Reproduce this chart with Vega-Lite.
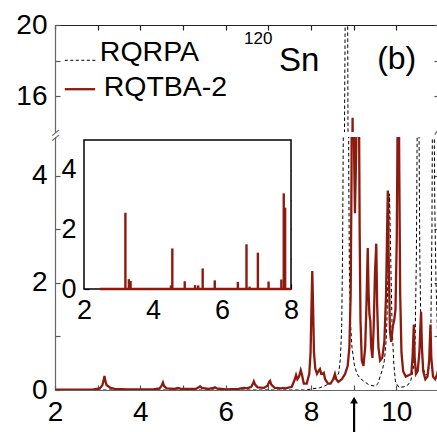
{
"$schema":"https://vega.github.io/schema/vega-lite/v6.json",
"padding":{"top":11,"left":15,"right":0,"bottom":0},
"bounds":"flush",
"spacing":5,
"config":{"view":{"stroke":null},"font":"Liberation Sans",
 "axis":{"grid":false,"labelFont":"Liberation Sans","labelFontSize":28,"labelColor":"black","domainColor":"#666","tickColor":"#555","tickSize":-5,"labelPadding":13,"labelFlush":false,"labelOverlap":false,"domainWidth":1.2,"tickWidth":1.2},
 "text":{"font":"Liberation Sans","color":"black"}},
"datasets":{
"rqtba":[{"E":2.0,"S":0.005},{"E":2.9,"S":0.01},{"E":3.05,"S":0.03},{"E":3.11,"S":0.09},{"E":3.14,"S":0.18},{"E":3.16,"S":0.26},{"E":3.18,"S":0.17},{"E":3.21,"S":0.09},{"E":3.25,"S":0.07},{"E":3.3,"S":0.04},{"E":3.4,"S":0.02},{"E":3.7,"S":0.01},{"E":4.3,"S":0.01},{"E":4.45,"S":0.03},{"E":4.5,"S":0.08},{"E":4.53,"S":0.14},{"E":4.56,"S":0.07},{"E":4.62,"S":0.03},{"E":4.8,"S":0.02},{"E":4.88,"S":0.04},{"E":4.95,"S":0.02},{"E":5.3,"S":0.02},{"E":5.37,"S":0.05},{"E":5.4,"S":0.07},{"E":5.44,"S":0.04},{"E":5.6,"S":0.02},{"E":5.72,"S":0.04},{"E":5.75,"S":0.05},{"E":5.79,"S":0.03},{"E":6.0,"S":0.01},{"E":6.3,"S":0.02},{"E":6.42,"S":0.04},{"E":6.5,"S":0.03},{"E":6.6,"S":0.06},{"E":6.64,"S":0.12},{"E":6.66,"S":0.16},{"E":6.69,"S":0.1},{"E":6.75,"S":0.05},{"E":6.9,"S":0.04},{"E":6.98,"S":0.08},{"E":7.02,"S":0.15},{"E":7.04,"S":0.17},{"E":7.07,"S":0.1},{"E":7.15,"S":0.04},{"E":7.3,"S":0.03},{"E":7.34,"S":0.04},{"E":7.4,"S":0.03},{"E":7.55,"S":0.06},{"E":7.62,"S":0.2},{"E":7.65,"S":0.28},{"E":7.68,"S":0.2},{"E":7.72,"S":0.25},{"E":7.76,"S":0.37},{"E":7.79,"S":0.28},{"E":7.83,"S":0.12},{"E":7.9,"S":0.12},{"E":7.96,"S":0.3},{"E":7.99,"S":0.7},{"E":8.01,"S":1.5},{"E":8.03,"S":2.22},{"E":8.05,"S":1.5},{"E":8.07,"S":0.7},{"E":8.1,"S":0.4},{"E":8.14,"S":0.3},{"E":8.18,"S":0.36},{"E":8.21,"S":0.39},{"E":8.24,"S":0.3},{"E":8.27,"S":0.3},{"E":8.3,"S":0.32},{"E":8.33,"S":0.2},{"E":8.4,"S":0.12},{"E":8.46,"S":0.12},{"E":8.52,"S":0.2},{"E":8.56,"S":0.3},{"E":8.59,"S":0.2},{"E":8.64,"S":0.15},{"E":8.72,"S":0.2},{"E":8.8,"S":0.3},{"E":8.86,"S":0.45},{"E":8.9,"S":0.8},{"E":8.93,"S":1.8},{"E":8.95,"S":4},{"E":8.965,"S":8.5},{"E":8.973,"S":14.2},{"E":8.975,"S":14.8},{"E":8.977,"S":14.2},{"E":8.985,"S":8.5},{"E":9.0,"S":5},{"E":9.03,"S":3.3},{"E":9.06,"S":4.5},{"E":9.08,"S":7},{"E":9.1,"S":8},{"E":9.12,"S":6},{"E":9.14,"S":3},{"E":9.16,"S":1.3},{"E":9.19,"S":0.55},{"E":9.23,"S":0.45},{"E":9.27,"S":0.8},{"E":9.3,"S":1.6},{"E":9.33,"S":2.65},{"E":9.35,"S":1.8},{"E":9.37,"S":1.4},{"E":9.39,"S":1.3},{"E":9.41,"S":0.8},{"E":9.44,"S":0.6},{"E":9.47,"S":1.2},{"E":9.5,"S":2.2},{"E":9.53,"S":2.73},{"E":9.55,"S":1.6},{"E":9.58,"S":0.8},{"E":9.62,"S":0.55},{"E":9.67,"S":0.6},{"E":9.72,"S":0.9},{"E":9.76,"S":1.8},{"E":9.78,"S":2.8},{"E":9.8,"S":3.72},{"E":9.82,"S":2.5},{"E":9.85,"S":1.1},{"E":9.88,"S":0.9},{"E":9.92,"S":1.2},{"E":9.95,"S":1.3},{"E":9.98,"S":1.5},{"E":10.01,"S":2.8},{"E":10.03,"S":5},{"E":10.05,"S":6.5},{"E":10.07,"S":4},{"E":10.09,"S":1.8},{"E":10.12,"S":0.7},{"E":10.16,"S":0.35},{"E":10.22,"S":0.25},{"E":10.3,"S":0.28},{"E":10.35,"S":0.3},{"E":10.38,"S":0.6},{"E":10.41,"S":1.22},{"E":10.43,"S":0.6},{"E":10.46,"S":0.3},{"E":10.5,"S":0.35},{"E":10.54,"S":0.7},{"E":10.56,"S":1.1},{"E":10.58,"S":1.46},{"E":10.6,"S":0.8},{"E":10.63,"S":0.35},{"E":10.68,"S":0.2},{"E":10.73,"S":0.25},{"E":10.77,"S":0.55},{"E":10.8,"S":1.22},{"E":10.82,"S":0.6},{"E":10.86,"S":0.25},{"E":10.91,"S":0.2},{"E":10.96,"S":0.3},{"E":11.0,"S":0.45}],
"rqrpa":[{"E":2.0,"S":0.0},{"E":7.9,"S":0.0},{"E":8.0,"S":0.02},{"E":8.2,"S":0.04},{"E":8.33,"S":0.08},{"E":8.45,"S":0.13},{"E":8.53,"S":0.18},{"E":8.6,"S":0.24},{"E":8.65,"S":0.32},{"E":8.69,"S":0.6},{"E":8.72,"S":1.2},{"E":8.74,"S":2.6},{"E":8.755,"S":4.5},{"E":8.77,"S":8},{"E":8.8,"S":20},{"E":8.83,"S":60},{"E":8.86,"S":20},{"E":8.875,"S":8},{"E":8.885,"S":4},{"E":8.9,"S":2.2},{"E":8.93,"S":1.2},{"E":8.96,"S":0.8},{"E":9.02,"S":0.45},{"E":9.08,"S":0.3},{"E":9.15,"S":0.22},{"E":9.23,"S":0.17},{"E":9.35,"S":0.1},{"E":9.5,"S":0.07},{"E":9.57,"S":0.12},{"E":9.62,"S":0.25},{"E":9.68,"S":0.4},{"E":9.72,"S":0.55},{"E":9.76,"S":0.9},{"E":9.78,"S":1.3},{"E":9.81,"S":2.4},{"E":9.84,"S":3.66},{"E":9.87,"S":2.4},{"E":9.9,"S":1.2},{"E":9.94,"S":0.5},{"E":9.98,"S":0.15},{"E":10.06,"S":0.05},{"E":10.18,"S":0.06},{"E":10.28,"S":0.1},{"E":10.34,"S":0.18},{"E":10.4,"S":0.4},{"E":10.44,"S":0.9},{"E":10.47,"S":2.5},{"E":10.49,"S":5},{"E":10.51,"S":8},{"E":10.53,"S":5},{"E":10.55,"S":2.5},{"E":10.58,"S":0.9},{"E":10.63,"S":0.4},{"E":10.69,"S":0.28},{"E":10.74,"S":0.3},{"E":10.78,"S":0.5},{"E":10.81,"S":1.2},{"E":10.835,"S":3},{"E":10.85,"S":6},{"E":10.865,"S":8},{"E":10.88,"S":6},{"E":10.9,"S":3.5},{"E":10.93,"S":2},{"E":10.97,"S":0.9},{"E":11.0,"S":0.6}],
"inset":[{"E":3.2,"S":2.56},{"E":3.3,"S":0.33},{"E":3.35,"S":0.27},{"E":4.52,"S":0.12},{"E":4.56,"S":1.36},{"E":4.92,"S":0.26},{"E":5.22,"S":0.13},{"E":5.31,"S":0.12},{"E":5.44,"S":0.69},{"E":5.79,"S":0.29},{"E":6.46,"S":0.24},{"E":6.71,"S":1.5},{"E":6.8,"S":0.08},{"E":7.04,"S":1.22},{"E":7.35,"S":0.25},{"E":7.72,"S":0.32},{"E":7.79,"S":3.21},{"E":7.83,"S":2.73}],
"one":[{"k":1}]
},
"resolve":{"scale":{"x":"independent","y":"independent"}},
"vconcat":[
{
 "width":384,"height":107,
 "resolve":{"axis":{"x":"independent","y":"independent"}},
 "layer":[
  {"data":{"name":"rqrpa"},"mark":{"type":"line","clip":true,"color":"black","strokeWidth":1,"strokeDash":[3.5,2.5]},
   "encoding":{
    "x":{"field":"E","type":"quantitative","title":null,"scale":{"domain":[2,11],"nice":false,"zero":false},"axis":{"orient":"top","values":[2,3,4,5,6,7,8,9,10,11],"labels":false,"domainColor":"#222","tickColor":"#222"}},
    "y":{"field":"S","type":"quantitative","title":null,"scale":{"domain":[14,20],"nice":false,"zero":false},"axis":{"orient":"left","values":[16,18,20],"labelExpr":"datum.value % 4 === 0 ? datum.label : ''"}}}},
  {"data":{"name":"rqtba"},"mark":{"type":"line","clip":true,"color":"#8C1A0E","strokeWidth":2.3},
   "encoding":{
    "x":{"field":"E","type":"quantitative","axis":null},
    "y":{"field":"S","type":"quantitative","title":null,"axis":{"orient":"right","values":[16,18,20],"labels":false}}}},
  {"data":{"name":"one"},"mark":{"type":"rule","color":"black","strokeWidth":1,"strokeDash":[3,2.5]},
   "encoding":{"x":{"datum":2.23,"type":"quantitative","axis":null},"x2":{"datum":2.98},"y":{"datum":18.02,"type":"quantitative","axis":null}}},
  {"data":{"name":"one"},"mark":{"type":"rule","color":"#8C1A0E","strokeWidth":2.3},
   "encoding":{"x":{"datum":2.23,"type":"quantitative","axis":null},"x2":{"datum":2.94},"y":{"datum":16.4,"type":"quantitative","axis":null}}},
  {"data":{"name":"one"},"mark":{"type":"text","text":"RQRPA","align":"left","baseline":"alphabetic","fontSize":28.5},
   "encoding":{"x":{"datum":3.05,"type":"quantitative","axis":null},"y":{"datum":18.0,"type":"quantitative","axis":null}}},
  {"data":{"name":"one"},"mark":{"type":"text","text":"RQTBA-2","align":"left","baseline":"alphabetic","fontSize":28.5},
   "encoding":{"x":{"datum":3.14,"type":"quantitative","axis":null},"y":{"datum":16.03,"type":"quantitative","axis":null}}},
  {"data":{"name":"one"},"mark":{"type":"text","text":"120","align":"left","baseline":"alphabetic","fontSize":17},
   "encoding":{"x":{"datum":6.43,"type":"quantitative","axis":null},"y":{"datum":18.94,"type":"quantitative","axis":null}}},
  {"data":{"name":"one"},"mark":{"type":"text","text":"Sn","align":"left","baseline":"alphabetic","fontSize":33},
   "encoding":{"x":{"datum":7.25,"type":"quantitative","axis":null},"y":{"datum":17.43,"type":"quantitative","axis":null}}},
  {"data":{"name":"one"},"mark":{"type":"text","text":"(b)","align":"left","baseline":"alphabetic","fontSize":32},
   "encoding":{"x":{"datum":9.55,"type":"quantitative","axis":null},"y":{"datum":17.52,"type":"quantitative","axis":null}}},
  {"data":{"name":"one"},"mark":{"type":"text","text":"–","fontSize":16,"angle":-40,"align":"center","baseline":"middle","color":"#666"},
   "encoding":{"x":{"datum":2,"type":"quantitative","axis":null},"y":{"datum":14,"type":"quantitative","axis":null}}},
  {"data":{"name":"one"},"mark":{"type":"rule","color":"#666","strokeWidth":1.2,"clip":false},
   "encoding":{"x":{"datum":10.9,"type":"quantitative","axis":null},"x2":{"datum":11.0},"y":{"datum":13.85,"type":"quantitative","axis":null},"y2":{"datum":14.2}}}
 ]
},
{
 "width":384,"height":253,
 "resolve":{"scale":{"x":"independent","y":"independent"}},
 "layer":[
  {
   "resolve":{"axis":{"x":"independent","y":"independent"}},
   "layer":[
    {"data":{"name":"rqrpa"},"mark":{"type":"line","clip":true,"color":"black","strokeWidth":1,"strokeDash":[3.5,2.5]},
     "encoding":{
      "x":{"field":"E","type":"quantitative","title":null,"scale":{"domain":[2,11],"nice":false,"zero":false},"axis":{"orient":"bottom","values":[2,3,4,5,6,7,8,9,10,11],"labelExpr":"datum.value % 2 === 0 ? datum.label : ''"}},
      "y":{"field":"S","type":"quantitative","title":null,"scale":{"domain":[0,4.72],"nice":false,"zero":false},"axis":{"orient":"left","values":[0,1,2,3,4],"labelExpr":"datum.value % 2 === 0 ? datum.label : ''"}}}},
    {"data":{"name":"rqtba"},"mark":{"type":"line","clip":true,"color":"#8C1A0E","strokeWidth":2.3},
     "encoding":{
      "x":{"field":"E","type":"quantitative","axis":null},
      "y":{"field":"S","type":"quantitative","title":null,"axis":{"orient":"right","values":[1,2,3,4],"labels":false}}}},
    {"data":{"name":"one"},"mark":{"type":"rule","color":"black","strokeWidth":2.2},
     "encoding":{"x":{"datum":9.01,"type":"quantitative","axis":null},"y":{"datum":-0.24,"type":"quantitative","axis":null},"y2":{"datum":-0.8}}},
    {"data":{"name":"one"},"mark":{"type":"point","shape":"triangle-up","filled":true,"color":"black","size":60,"opacity":1},
     "encoding":{"x":{"datum":9.01,"type":"quantitative","axis":null},"y":{"datum":-0.19,"type":"quantitative","axis":null}}},
    {"data":{"name":"one"},"mark":{"type":"text","text":"–","fontSize":16,"angle":-40,"align":"center","baseline":"middle","color":"#666"},
     "encoding":{"x":{"datum":2,"type":"quantitative","axis":null},"y":{"datum":4.72,"type":"quantitative","axis":null}}}
   ]
  },
  {
   "resolve":{"axis":{"x":"independent","y":"independent"}},
   "layer":[
    {"data":{"name":"one"},"mark":{"type":"rect","fill":"white","stroke":"black","strokeWidth":1.5},
     "encoding":{
      "x":{"datum":2,"type":"quantitative","title":null,"scale":{"domain":[2,8],"range":[29,236],"nice":false,"zero":false},"axis":{"orient":"bottom","offset":-101,"domain":false,"values":[2,3,4,5,6,7,8],"tickColor":"black","labelFontSize":27,"labelExpr":"datum.value % 2 === 0 ? datum.label : ''"}},
      "x2":{"datum":8},
      "y":{"datum":0,"type":"quantitative","title":null,"scale":{"domain":[0,5],"range":[152,3],"nice":false,"zero":false},"axis":{"orient":"left","offset":-29,"domain":false,"values":[0,1,2,3,4],"tickColor":"black","labelFontSize":27,"labelExpr":"datum.value % 2 === 0 ? datum.label : ''"}},
      "y2":{"datum":5}}},
    {"data":{"name":"inset"},"mark":{"type":"rule","color":"#8C1A0E","strokeWidth":2.4},
     "encoding":{
      "x":{"field":"E","type":"quantitative","title":null,"axis":{"orient":"top","offset":-3,"domain":false,"labels":false,"values":[3,4,5,6,7],"tickColor":"black"}},
      "y":{"field":"S","type":"quantitative","title":null,"axis":{"orient":"right","offset":-148,"domain":false,"labels":false,"values":[1,2,3,4],"tickColor":"black"}},
      "y2":{"datum":0}}},
    {"data":{"name":"one"},"mark":{"type":"rule","color":"#8C1A0E","strokeWidth":2.4},
     "encoding":{"x":{"datum":2.46,"type":"quantitative","axis":null},"x2":{"datum":8},"y":{"datum":0,"type":"quantitative","axis":null}}}
   ]
  }
 ]
}
]
}
